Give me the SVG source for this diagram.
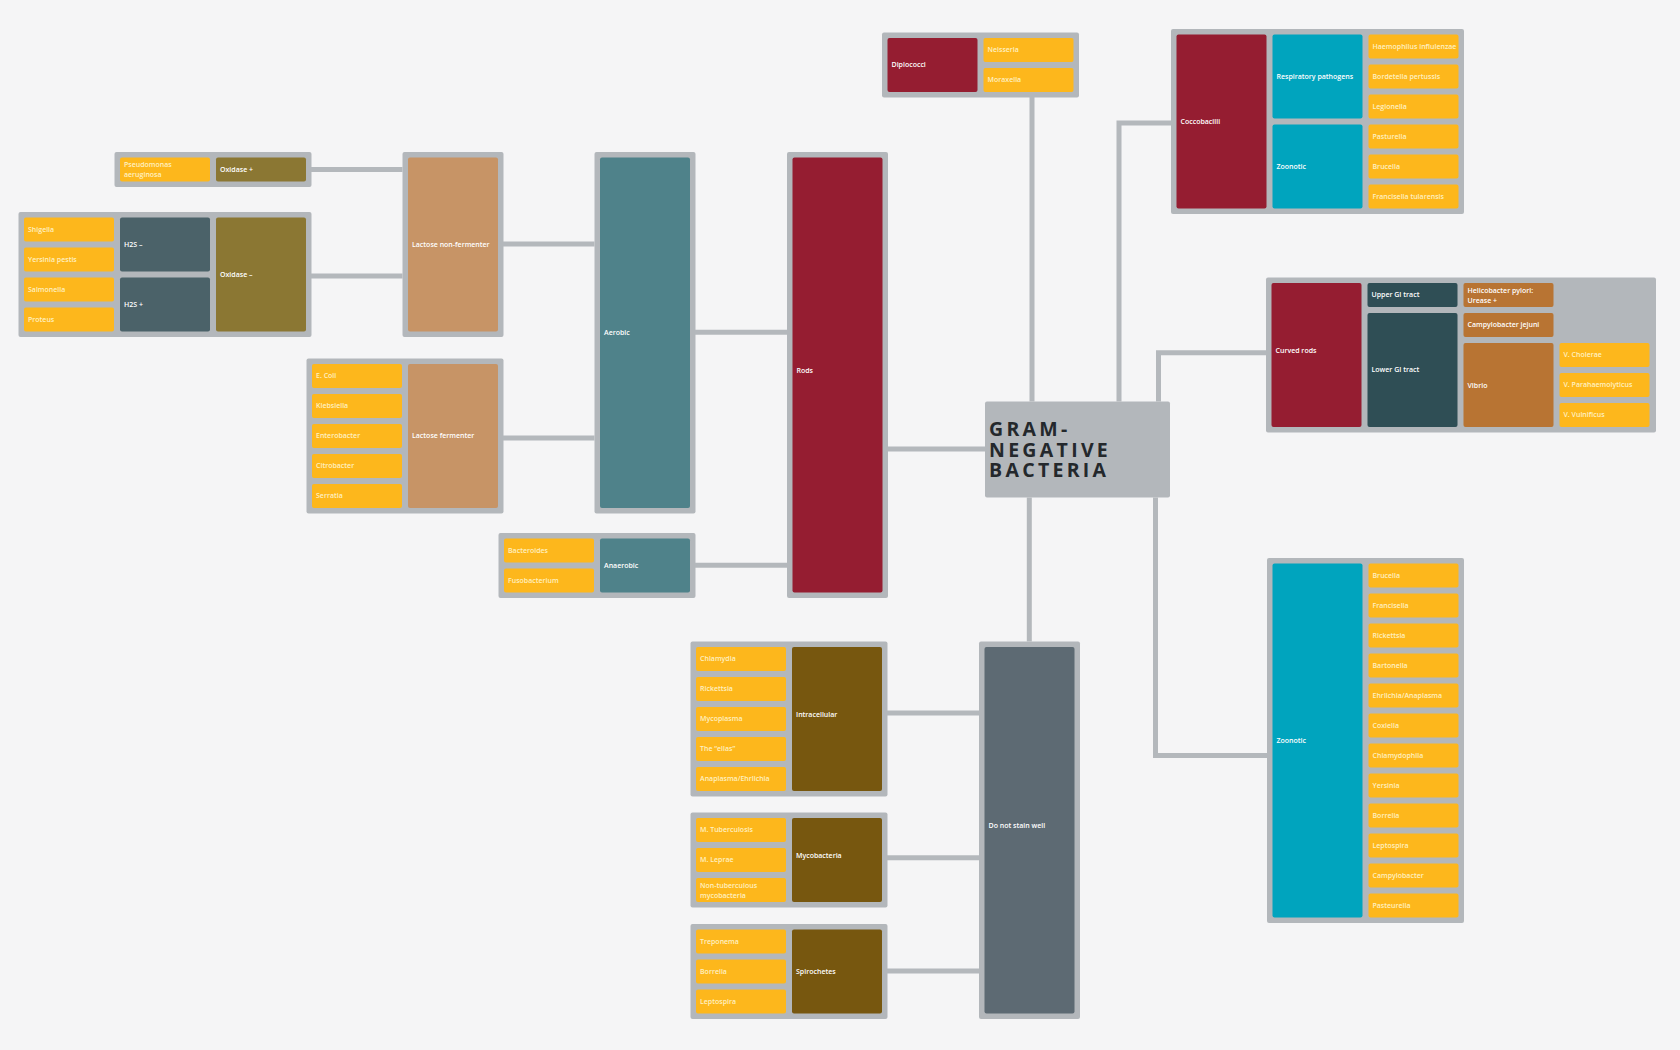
<svg xmlns="http://www.w3.org/2000/svg" width="1680" height="1050" viewBox="0 0 1680 1050">
<defs>
<style>
.bg{fill:#f5f5f6}
.fr{fill:#b3b7bb}
.y{fill:#fdb71c}
.cr{fill:#951d31}
.tl{fill:#4f828a}
.tn{fill:#c79466}
.ol{fill:#8b7733}
.sl{fill:#4b6269}
.br{fill:#77570f}
.dn{fill:#5d6a73}
.cy{fill:#00a4be}
.gi{fill:#2f4e55}
.cp{fill:#b87433}
.ctr{fill:#b3b7bb}
text{font-family:"Open Sans","Liberation Sans",sans-serif;font-size:7px;font-weight:600;fill:#ffffff}
text.ty{fill:#fff1c2}
text.big{font-size:19.5px;font-weight:700;fill:#24282c;letter-spacing:3.3px}
.conn path{fill:none;stroke:#b4b8bc;stroke-width:5}
</style>
</defs>
<rect class="bg" x="0" y="0" width="1680" height="1050"/>

<g id="connectors" class="conn">
<path d="M311 169.5H402.5"/>
<path d="M311 276H402.5"/>
<path d="M503 244H594.5"/>
<path d="M503 438H594.5"/>
<path d="M695 332.3H787"/>
<path d="M695 565.3H787"/>
<path d="M888 449H985"/>
<path d="M1032 401.5V97"/>
<path d="M1119 401.5V123H1171"/>
<path d="M1158.5 401.5V352.7H1266"/>
<path d="M1155.5 497.5V755.5H1267"/>
<path d="M1029.3 497.5V641.5"/>
<path d="M887 713H979"/>
<path d="M887 857.7H979"/>
<path d="M887 971H979"/>
</g>

<g id="center">
<rect class="ctr" x="985" y="401.5" width="185" height="96" rx="2"/>
<text class="big" x="989" y="436"><tspan x="989" y="436">GRAM-</tspan><tspan x="989" y="456.7">NEGATIVE</tspan><tspan x="989" y="477.3">BACTERIA</tspan></text>
</g>

<g id="oxidase-pos-group">
<rect class="fr" x="114.5" y="152" width="197" height="35" rx="2"/>
<rect class="y" x="120" y="157.5" width="90" height="24" rx="2"/>
<text class="ty" x="124" y="167"><tspan x="124" y="167">Pseudomonas</tspan><tspan x="124" y="176.8">aeruginosa</tspan></text>
<rect class="ol" x="216" y="157.5" width="90" height="24" rx="2"/>
<text x="220" y="172">Oxidase +</text>
</g>

<g id="oxidase-neg-group">
<rect class="fr" x="18.5" y="212" width="293" height="125" rx="2"/>
<rect class="y" x="24" y="217.5" width="90" height="24" rx="2"/>
<text class="ty" x="28" y="231.9">Shigella</text>
<rect class="y" x="24" y="247.5" width="90" height="24" rx="2"/>
<text class="ty" x="28" y="261.9">Yersinia pestis</text>
<rect class="y" x="24" y="277.5" width="90" height="24" rx="2"/>
<text class="ty" x="28" y="291.9">Salmonella</text>
<rect class="y" x="24" y="307.5" width="90" height="24" rx="2"/>
<text class="ty" x="28" y="321.9">Proteus</text>
<rect class="sl" x="120" y="217.5" width="90" height="54" rx="2"/>
<text x="124" y="246.9">H2S –</text>
<rect class="sl" x="120" y="277.5" width="90" height="54" rx="2"/>
<text x="124" y="306.9">H2S +</text>
<rect class="ol" x="216" y="217.5" width="90" height="114" rx="2"/>
<text x="220" y="277.4">Oxidase –</text>
</g>

<g id="lactose-non-fermenter">
<rect class="fr" x="402.5" y="152" width="101" height="185" rx="2"/>
<rect class="tn" x="408" y="157.5" width="90" height="174" rx="2"/>
<text x="412" y="247.1">Lactose non-fermenter</text>
</g>

<g id="lactose-fermenter-group">
<rect class="fr" x="306.5" y="358.5" width="197" height="155" rx="2"/>
<rect class="y" x="312" y="364" width="90" height="24" rx="2"/>
<text class="ty" x="316" y="378.4">E. Coli</text>
<rect class="y" x="312" y="394" width="90" height="24" rx="2"/>
<text class="ty" x="316" y="408.4">Klebsiella</text>
<rect class="y" x="312" y="424" width="90" height="24" rx="2"/>
<text class="ty" x="316" y="438.4">Enterobacter</text>
<rect class="y" x="312" y="454" width="90" height="24" rx="2"/>
<text class="ty" x="316" y="468.4">Citrobacter</text>
<rect class="y" x="312" y="484" width="90" height="24" rx="2"/>
<text class="ty" x="316" y="498.4">Serratia</text>
<rect class="tn" x="408" y="364" width="90" height="144" rx="2"/>
<text x="412" y="438.4">Lactose fermenter</text>
</g>

<g id="aerobic">
<rect class="fr" x="594.5" y="152" width="101" height="361.5" rx="2"/>
<rect class="tl" x="600" y="157.5" width="90" height="350.5" rx="2"/>
<text x="604" y="335.1">Aerobic</text>
</g>

<g id="anaerobic-group">
<rect class="fr" x="498.5" y="533" width="197" height="65" rx="2"/>
<rect class="y" x="504" y="538.5" width="90" height="24" rx="2"/>
<text class="ty" x="508" y="552.9">Bacteroides</text>
<rect class="y" x="504" y="568.5" width="90" height="24" rx="2"/>
<text class="ty" x="508" y="582.9">Fusobacterium</text>
<rect class="tl" x="600" y="538.5" width="90" height="54" rx="2"/>
<text x="604" y="567.9">Anaerobic</text>
</g>

<g id="rods">
<rect class="fr" x="787" y="152" width="101" height="446" rx="2"/>
<rect class="cr" x="792.5" y="157.5" width="90" height="435" rx="2"/>
<text x="796.5" y="372.6">Rods</text>
</g>

<g id="diplococci-group">
<rect class="fr" x="882" y="32.5" width="197" height="65" rx="2"/>
<rect class="cr" x="887.5" y="38" width="90" height="54" rx="2"/>
<text x="891.5" y="67.4">Diplococci</text>
<rect class="y" x="983.5" y="38" width="90" height="24" rx="2"/>
<text class="ty" x="987.5" y="52.4">Neisseria</text>
<rect class="y" x="983.5" y="68" width="90" height="24" rx="2"/>
<text class="ty" x="987.5" y="82.4">Moraxella</text>
</g>

<g id="coccobacilli-group">
<rect class="fr" x="1171" y="29" width="293" height="185" rx="2"/>
<rect class="cr" x="1176.5" y="34.5" width="90" height="174" rx="2"/>
<text x="1180.5" y="124.1">Coccobacilli</text>
<rect class="cy" x="1272.5" y="34.5" width="90" height="84" rx="2"/>
<text x="1276.5" y="79.1">Respiratory pathogens</text>
<rect class="cy" x="1272.5" y="124.5" width="90" height="84" rx="2"/>
<text x="1276.5" y="169.1">Zoonotic</text>
<rect class="y" x="1368.5" y="34.5" width="90" height="24" rx="2"/>
<text class="ty" x="1372.5" y="48.9">Haemophilus influlenzae</text>
<rect class="y" x="1368.5" y="64.5" width="90" height="24" rx="2"/>
<text class="ty" x="1372.5" y="78.9">Bordetella pertussis</text>
<rect class="y" x="1368.5" y="94.5" width="90" height="24" rx="2"/>
<text class="ty" x="1372.5" y="108.9">Legionella</text>
<rect class="y" x="1368.5" y="124.5" width="90" height="24" rx="2"/>
<text class="ty" x="1372.5" y="138.9">Pasturella</text>
<rect class="y" x="1368.5" y="154.5" width="90" height="24" rx="2"/>
<text class="ty" x="1372.5" y="168.9">Brucella</text>
<rect class="y" x="1368.5" y="184.5" width="90" height="24" rx="2"/>
<text class="ty" x="1372.5" y="198.9">Francisella tularensis</text>
</g>

<g id="curved-rods-group">
<rect class="fr" x="1266" y="277.5" width="390" height="155" rx="2"/>
<rect class="cr" x="1271.5" y="283" width="90" height="144" rx="2"/>
<text x="1275.5" y="353.1">Curved rods</text>
<rect class="gi" x="1367.5" y="283" width="90" height="24" rx="2"/>
<text x="1371.5" y="297.4">Upper GI tract</text>
<rect class="gi" x="1367.5" y="313" width="90" height="114" rx="2"/>
<text x="1371.5" y="372.4">Lower GI tract</text>
<rect class="cp" x="1463.5" y="283" width="90" height="24" rx="2"/>
<text x="1467.5" y="293.1"><tspan x="1467.5" y="293.1">Helicobacter pylori:</tspan><tspan x="1467.5" y="303">Urease +</tspan></text>
<rect class="cp" x="1463.5" y="313" width="90" height="24" rx="2"/>
<text x="1467.5" y="327.4">Campylobacter jejuni</text>
<rect class="cp" x="1463.5" y="343" width="90" height="84" rx="2"/>
<text x="1467.5" y="388.4">Vibrio</text>
<rect class="y" x="1559.5" y="343" width="90" height="24" rx="2"/>
<text class="ty" x="1563.5" y="357.4">V. Cholerae</text>
<rect class="y" x="1559.5" y="373" width="90" height="24" rx="2"/>
<text class="ty" x="1563.5" y="387.4">V. Parahaemolyticus</text>
<rect class="y" x="1559.5" y="403" width="90" height="24" rx="2"/>
<text class="ty" x="1563.5" y="417.4">V. Vulnificus</text>
</g>

<g id="zoonotic-group">
<rect class="fr" x="1267" y="558" width="197" height="365" rx="2"/>
<rect class="cy" x="1272.5" y="563.5" width="90" height="354" rx="2"/>
<text x="1276.5" y="743.1">Zoonotic</text>
<rect class="y" x="1368.5" y="563.5" width="90" height="24" rx="2"/>
<text class="ty" x="1372.5" y="577.9">Brucella</text>
<rect class="y" x="1368.5" y="593.5" width="90" height="24" rx="2"/>
<text class="ty" x="1372.5" y="607.9">Francisella</text>
<rect class="y" x="1368.5" y="623.5" width="90" height="24" rx="2"/>
<text class="ty" x="1372.5" y="637.9">Rickettsia</text>
<rect class="y" x="1368.5" y="653.5" width="90" height="24" rx="2"/>
<text class="ty" x="1372.5" y="667.9">Bartonella</text>
<rect class="y" x="1368.5" y="683.5" width="90" height="24" rx="2"/>
<text class="ty" x="1372.5" y="697.9">Ehrlichia/Anaplasma</text>
<rect class="y" x="1368.5" y="713.5" width="90" height="24" rx="2"/>
<text class="ty" x="1372.5" y="727.9">Coxiella</text>
<rect class="y" x="1368.5" y="743.5" width="90" height="24" rx="2"/>
<text class="ty" x="1372.5" y="757.9">Chlamydophila</text>
<rect class="y" x="1368.5" y="773.5" width="90" height="24" rx="2"/>
<text class="ty" x="1372.5" y="787.9">Yersinia</text>
<rect class="y" x="1368.5" y="803.5" width="90" height="24" rx="2"/>
<text class="ty" x="1372.5" y="817.9">Borrelia</text>
<rect class="y" x="1368.5" y="833.5" width="90" height="24" rx="2"/>
<text class="ty" x="1372.5" y="847.9">Leptospira</text>
<rect class="y" x="1368.5" y="863.5" width="90" height="24" rx="2"/>
<text class="ty" x="1372.5" y="877.9">Campylobacter</text>
<rect class="y" x="1368.5" y="893.5" width="90" height="24" rx="2"/>
<text class="ty" x="1372.5" y="907.9">Pasteurella</text>
</g>

<g id="do-not-stain-well">
<rect class="fr" x="979" y="641.5" width="101" height="377.5" rx="2"/>
<rect class="dn" x="984.5" y="647" width="90" height="366.5" rx="2"/>
<text x="988.5" y="828.2">Do not stain well</text>
</g>

<g id="intracellular-group">
<rect class="fr" x="690.5" y="641.5" width="197" height="155" rx="2"/>
<rect class="y" x="696" y="647" width="90" height="24" rx="2"/>
<text class="ty" x="700" y="661.4">Chlamydia</text>
<rect class="y" x="696" y="677" width="90" height="24" rx="2"/>
<text class="ty" x="700" y="691.4">Rickettsia</text>
<rect class="y" x="696" y="707" width="90" height="24" rx="2"/>
<text class="ty" x="700" y="721.4">Mycoplasma</text>
<rect class="y" x="696" y="737" width="90" height="24" rx="2"/>
<text class="ty" x="700" y="751.4">The “ellas”</text>
<rect class="y" x="696" y="767" width="90" height="24" rx="2"/>
<text class="ty" x="700" y="781.4">Anaplasma/Ehrlichia</text>
<rect class="br" x="792" y="647" width="90" height="144" rx="2"/>
<text x="796" y="716.8">Intracellular</text>
</g>

<g id="mycobacteria-group">
<rect class="fr" x="690.5" y="812.5" width="197" height="95" rx="2"/>
<rect class="y" x="696" y="818" width="90" height="24" rx="2"/>
<text class="ty" x="700" y="832.4">M. Tuberculosis</text>
<rect class="y" x="696" y="848" width="90" height="24" rx="2"/>
<text class="ty" x="700" y="862.4">M. Leprae</text>
<rect class="y" x="696" y="878" width="90" height="24" rx="2"/>
<text class="ty" x="700" y="888.2"><tspan x="700" y="888.2">Non-tuberculous</tspan><tspan x="700" y="897.8">mycobacteria</tspan></text>
<rect class="br" x="792" y="818" width="90" height="84" rx="2"/>
<text x="796" y="858.2">Mycobacteria</text>
</g>

<g id="spirochetes-group">
<rect class="fr" x="690.5" y="924" width="197" height="95" rx="2"/>
<rect class="y" x="696" y="929.5" width="90" height="24" rx="2"/>
<text class="ty" x="700" y="943.9">Treponema</text>
<rect class="y" x="696" y="959.5" width="90" height="24" rx="2"/>
<text class="ty" x="700" y="973.9">Borrelia</text>
<rect class="y" x="696" y="989.5" width="90" height="24" rx="2"/>
<text class="ty" x="700" y="1003.9">Leptospira</text>
<rect class="br" x="792" y="929.5" width="90" height="84" rx="2"/>
<text x="796" y="973.8">Spirochetes</text>
</g>
</svg>
